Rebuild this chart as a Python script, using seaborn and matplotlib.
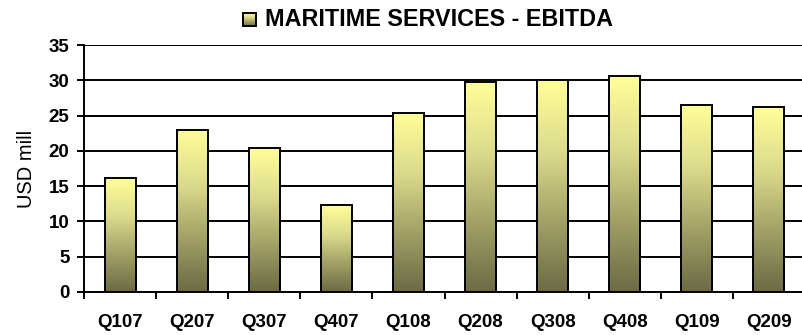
import numpy as np
import pandas as pd
import matplotlib
matplotlib.use("Agg")
import matplotlib.pyplot as plt
from matplotlib.colors import LinearSegmentedColormap
from matplotlib.ticker import MultipleLocator, FixedLocator
import seaborn as sns

quarters = ["Q107", "Q207", "Q307", "Q407", "Q108", "Q208", "Q308", "Q408", "Q109", "Q209"]
ebitda = [16.1, 23.0, 20.4, 12.3, 25.4, 29.7, 30.0, 30.6, 26.5, 26.2]
title_text = "MARITIME SERVICES - EBITDA"
ylabel_text = "USD mill"

df = pd.DataFrame({"quarter": quarters, "ebitda": ebitda})

sns.set_theme(style="white")
plt.rcParams["font.family"] = ["Liberation Sans", "DejaVu Sans"]

fig = plt.figure(figsize=(8.02, 3.35), dpi=100)
ax = fig.add_axes([84 / 802, 43 / 335, 721 / 802, 247 / 335])

sns.barplot(data=df, x="quarter", y="ebitda", ax=ax, width=0.43,
            facecolor="none", edgecolor="black", linewidth=1.4, zorder=3)

# vertical gradient: light yellow at top, dark olive at bottom
grad_cmap = LinearSegmentedColormap.from_list(
    "olive", ["#6b6a45", "#a3a166", "#dcdb8c", "#ffff99"])
grad = np.linspace(0, 1, 256).reshape(-1, 1)
for patch in ax.patches:
    x0, y0 = patch.get_x(), patch.get_y()
    w, h = patch.get_width(), patch.get_height()
    im = ax.imshow(grad, cmap=grad_cmap, origin="lower", aspect="auto",
                   extent=[x0, x0 + w, y0, y0 + h], zorder=2)
    im.set_clip_path(patch)

ax.set_xlim(-0.5, len(quarters) - 0.5)
ax.set_ylim(0, 35)
ax.yaxis.set_major_locator(MultipleLocator(5))
ax.grid(axis="y", color="black", linewidth=1.4, zorder=1)
ax.set_axisbelow(True)

for side in ["top", "right"]:
    ax.spines[side].set_visible(False)
for side in ["left", "bottom"]:
    ax.spines[side].set_color("black")
    ax.spines[side].set_linewidth(1.4)
    ax.spines[side].set_zorder(4)

ax.xaxis.set_minor_locator(FixedLocator(np.arange(-0.5, len(quarters), 1.0)))
ax.tick_params(axis="x", which="minor", length=5, width=1.4, color="black", direction="out", bottom=True)
ax.tick_params(axis="x", which="major", length=0, pad=15.5, labelsize=13.5)
ax.tick_params(axis="y", which="major", length=5, width=1.4, color="black",
               direction="out", left=True, pad=5.5, labelsize=13.5)
for lab in ax.get_xticklabels() + ax.get_yticklabels():
    lab.set_fontweight("bold")
    lab.set_color("black")

ax.set_xlabel("")
ax.set_ylabel(ylabel_text, fontsize=14.5, color="black", labelpad=9)

# title with a gradient swatch in front of it
fig.text(265 / 802, 1 - 19 / 335, title_text, fontsize=16.8, fontweight="bold",
         color="black", ha="left", va="center")
sw = fig.add_axes([243 / 802, 1 - 26 / 335, 13 / 802, 13 / 335])
sw.imshow(grad, cmap=grad_cmap, origin="lower", aspect="auto", extent=[0, 1, 0, 1])
sw.set_xticks([])
sw.set_yticks([])
for s in sw.spines.values():
    s.set_color("black")
    s.set_linewidth(1.4)

fig.savefig("out.png", dpi=100)
